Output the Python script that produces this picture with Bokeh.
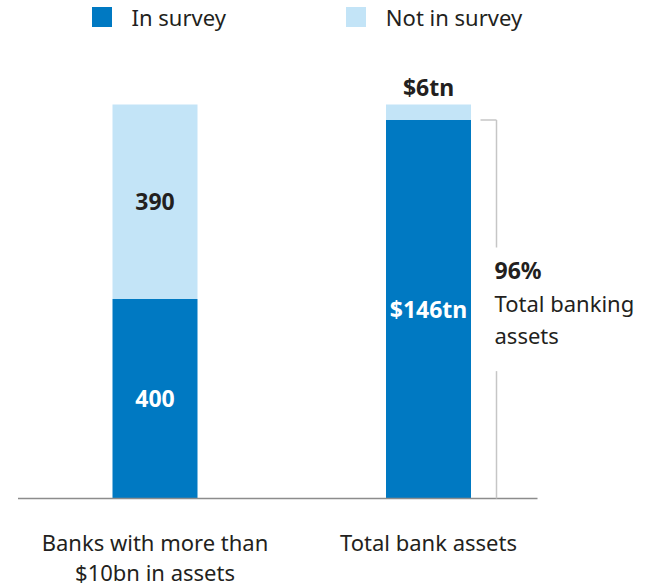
import numpy as np
from bokeh.plotting import figure
from bokeh.models import ColumnDataSource, Range1d, Legend, LegendItem
from bokeh.core.properties import value
from bokeh.embed import file_html
from bokeh.resources import INLINE

# ---- data ----
categories = ["Banks with more than\n$10bn in assets", "Total bank assets"]
in_survey = [400, 146]
not_in_survey = [390, 6]
in_labels = ["400", "$146tn"]
not_labels = ["390", "$6tn"]
series_names = ["In survey", "Not in survey"]
share_caption = ["Total banking", "assets"]

# ---- styles ----
DARK = "#0079c2"
LIGHT = "#c3e4f7"
INK = "#231f20"
FONT = "Noto Sans"
FS = "22px"
FSB = "23px"

x = np.arange(len(categories), dtype=float)
tot = np.array(in_survey, dtype=float) + np.array(not_in_survey, dtype=float)
in_pct = 100 * np.array(in_survey) / tot
not_pct = 100 * np.array(not_in_survey) / tot

PX_X = 273.5   # pixels per category step
PX_Y = 3.94    # pixels per percent
X0 = 154.5     # pixel of first category centre
BASE = 498     # pixel of baseline
W, H = 650, 588

p = figure(width=W, height=H,
           x_range=Range1d(-X0 / PX_X, (W - X0) / PX_X),
           y_range=Range1d(-(H - BASE) / PX_Y, 100 + (BASE - 100 * PX_Y) / PX_Y),
           output_backend="svg", toolbar_location=None, min_border=0,
           x_axis_location=None, y_axis_location=None)
p.grid.visible = False
p.outline_line_color = None
p.background_fill_color = "white"

src = ColumnDataSource(dict(x=x, in_pct=in_pct, not_pct=not_pct))
bw = 85 / PX_X
rs = p.vbar_stack(["in_pct", "not_pct"], x="x", width=bw, color=[DARK, LIGHT],
                  line_color=None, source=src)

# baseline
p.segment(x0=[x[0] - 137 / PX_X], x1=[x[-1] + 109 / PX_X], y0=[0], y1=[0],
          line_color="#8c8c8c", line_width=1.5)

# in-survey labels
p.text(x=x, y=in_pct / 2, text=in_labels, text_color="white",
       text_font=value(FONT), text_font_style="bold", text_font_size=FSB,
       text_align="center", text_baseline="middle")

# not-in-survey labels (inside if room, otherwise above the bar)
small = not_pct < 10
ny = np.where(small, in_pct + not_pct, in_pct + not_pct / 2)
noff = np.where(small, -18, 0)
p.text(x=x, y=ny, y_offset=noff, text=not_labels, text_color=INK,
       text_font=value(FONT), text_font_style="bold", text_font_size=FSB,
       text_align="center", text_baseline="middle")

# bracket on the last bar
k = len(x) - 1
bx = x[k] + 68 / PX_X
tx0 = x[k] + 52 / PX_X
mid = in_pct[k] / 2
gap = 15.7
BR = "#c6c6c6"
p.segment(x0=[tx0, bx, bx], x1=[bx, bx, bx],
          y0=[in_pct[k], in_pct[k], mid - gap], y1=[in_pct[k], mid + gap, 0],
          line_color=BR, line_width=1.5)

share = f"{round(in_survey[k] / tot[k] * 100)}%"
lx = x[k] + 66 / PX_X
p.text(x=[lx], y=[mid], y_offset=[-39], text=[share], text_color=INK,
       text_font=value(FONT), text_font_style="bold", text_font_size=FSB,
       text_align="left", text_baseline="middle")
p.text(x=[lx] * len(share_caption), y=[mid] * len(share_caption),
       y_offset=[-6 + 32 * i for i in range(len(share_caption))],
       text=share_caption, text_color=INK,
       text_font=value(FONT), text_font_size=FS,
       text_align="left", text_baseline="middle")

# category labels below the baseline
cx, cy, ct, co = [], [], [], []
for i, c in enumerate(categories):
    for j, line in enumerate(c.split("\n")):
        cx.append(x[i]); cy.append(0); ct.append(line); co.append(43 + 30 * j)
p.text(x=cx, y=cy, y_offset=co, text=ct, text_color=INK,
       text_font=value(FONT), text_font_size=FS,
       text_align="center", text_baseline="middle")

legend = Legend(items=[LegendItem(label=series_names[i], renderers=[rs[i]]) for i in range(2)],
                orientation="horizontal", location=(88.5, H - 6.5 - 25),
                padding=0, margin=0, spacing=117, label_standoff=18,
                glyph_width=25, glyph_height=25, label_height=25,
                label_text_font=FONT, label_text_font_size=FS, label_text_color=INK,
                border_line_color=None, background_fill_alpha=0)
p.add_layout(legend)

open("out.html", "w").write(file_html(p, INLINE))
